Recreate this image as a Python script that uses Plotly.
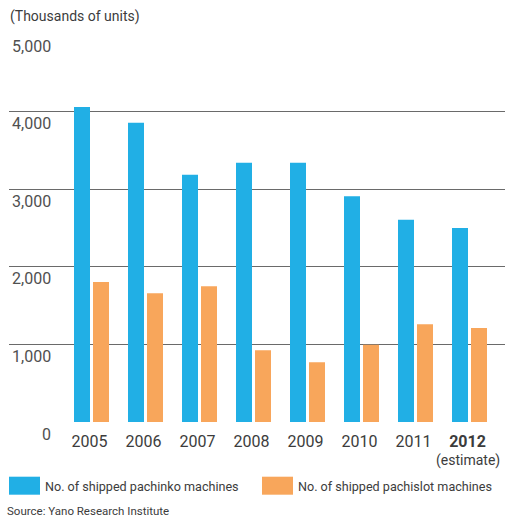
import plotly.graph_objects as go

# Shipments (thousands of units)
years = ["2005", "2006", "2007", "2008", "2009", "2010", "2011", "2012"]
pachinko = [4060, 3855, 3185, 3340, 3340, 2910, 2605, 2500]
pachislot = [1805, 1660, 1750, 925, 770, 995, 1260, 1210]
estimate_year = "2012"
y_ticks = [0, 1000, 2000, 3000, 4000, 5000]
y_tick_labels = ["0", "1,000", "2,000", "3,000", "4,000", "5,000"]

series_names = ["No. of shipped pachinko machines", "No. of shipped pachislot machines"]
BLUE = "#21AFE5"
ORANGE = "#F8A65B"
TEXT = "#3c3c3c"
GRID = "#6a6a6a"
FONT = "Roboto, Arial, sans-serif"

# page geometry (pixels)
W, H = 505, 517
L, R, T, B = 9, 0, 34, 95
plot_w = W - L - R
plot_h = H - T - B


def px_x(px):
    return (px - L) / plot_w


def px_y(py):
    return (H - B - py) / plot_h


step = 54.0          # pixels per year slot
first_center = 91.5  # pixel centre of the first year group
x_lo = -(first_center - L) / step
x_hi = x_lo + plot_w / step
bar_w = 16 / step

x_idx = list(range(len(years)))

fig = go.Figure()
fig.add_trace(go.Bar(x=x_idx, y=pachinko, name=series_names[0], marker_color=BLUE,
                     marker_line_width=0, width=bar_w, offset=-17.5 / step))
fig.add_trace(go.Bar(x=x_idx, y=pachislot, name=series_names[1], marker_color=ORANGE,
                     marker_line_width=0, width=bar_w, offset=1.5 / step))

tick_text = [f"<b>{y}</b>" if y == estimate_year else y for y in years]

fig.update_layout(
    width=W, height=H,
    margin=dict(l=L, r=R, t=T, b=B, pad=0),
    paper_bgcolor="white", plot_bgcolor="white",
    barmode="overlay",
    showlegend=False,
    font=dict(family=FONT, color=TEXT, size=16),
    xaxis=dict(range=[x_lo, x_hi], tickmode="array", tickvals=x_idx, ticktext=tick_text,
               showgrid=False, zeroline=False, showline=False, ticks="",
               tickfont=dict(family=FONT, size=16, color=TEXT),
               ticklabelshift=-2, ticklabelstandoff=8),
    yaxis=dict(range=[0, 5000], tickmode="array", tickvals=y_ticks, showticklabels=False,
               showgrid=True, gridcolor=GRID, gridwidth=1, zeroline=False, showline=False,
               ticks=""),
)

annotations = []
# y tick labels sit just below their grid lines
for v, lab in zip(y_ticks, y_tick_labels):
    annotations.append(dict(x=px_x(53), xref="paper", y=v, yref="y", yshift=-12,
                            text=lab, showarrow=False, xanchor="right", yanchor="middle",
                            font=dict(family=FONT, size=16, color="#505050")))

# estimate note under the last year
annotations.append(dict(x=years.index(estimate_year) - 2 / step, xref="x", y=px_y(460), yref="paper",
                        text="(estimate)", showarrow=False, xanchor="center", yanchor="middle",
                        font=dict(family=FONT, size=14, color=TEXT)))

# unit label
annotations.append(dict(x=px_x(8), xref="paper", y=px_y(17), yref="paper",
                        text="(Thousands of units)", showarrow=False, xanchor="left", yanchor="middle",
                        font=dict(family=FONT, size=14, color=TEXT)))

# legend entries
legend_items = [(series_names[0], BLUE, 9), (series_names[1], ORANGE, 262)]
shapes = []
for name, color, lx in legend_items:
    shapes.append(dict(type="rect", xref="paper", yref="paper",
                       x0=px_x(lx), x1=px_x(lx + 31), y0=px_y(494.7), y1=px_y(476.7),
                       fillcolor=color, line_width=0))
    annotations.append(dict(x=px_x(lx + 34), xref="paper", y=px_y(486.5), yref="paper",
                            text=name, showarrow=False, xanchor="left", yanchor="middle",
                            font=dict(family=FONT, size=12.6, color=TEXT)))

# source note
annotations.append(dict(x=px_x(6), xref="paper", y=px_y(510.5), yref="paper",
                        text="Source: Yano Research Institute", showarrow=False,
                        xanchor="left", yanchor="middle", borderpad=0,
                        font=dict(family=FONT, size=11.5, color=TEXT)))

fig.update_layout(annotations=annotations, shapes=shapes)
fig.write_html("out.html")
